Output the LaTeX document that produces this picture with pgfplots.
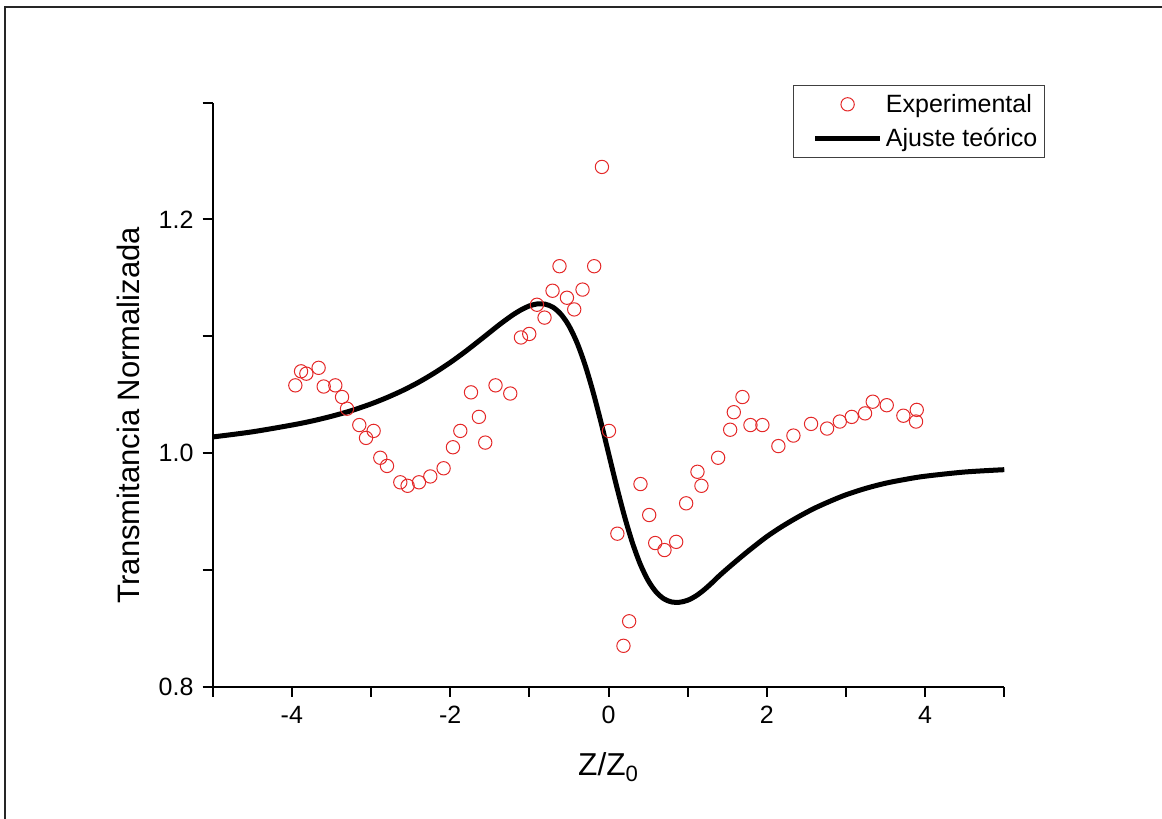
\documentclass[border=0pt]{standalone}
\usepackage{pgfplots}
\pgfplotsset{compat=1.18}
\usepackage{fontspec}
\setmainfont{Liberation Sans}
\definecolor{expred}{RGB}{228,40,40}
\pgfplotsset{
  markleg/.style={legend image code/.code={\path (0pt,0pt); \draw[##1] plot coordinates {(28.5pt,0pt)};}},
  lineleg/.style={legend image code/.code={\path (0pt,0pt); \draw[##1] (9pt,0pt) -- (48pt,0pt);}},
}

\begin{document}
\begin{tikzpicture}
% page area and the partial frame (left and top edges)
\useasboundingbox (0,0) rectangle (697.2pt,491.4pt);
\draw[line width=1.2pt, black!85] (2.7pt,0) -- (2.7pt,487.2pt) -- (697.2pt,487.2pt);

\begin{axis}[
  at={(127.62pt,79.38pt)}, anchor=south west,
  scale only axis, width=474.96pt, height=350.4pt,
  xmin=-5, xmax=5, ymin=0.8, ymax=1.3,
  axis x line*=bottom, axis y line*=left,
  axis line style={line width=1.2pt, -},
  every tick/.style={black, line width=1.2pt},
  tick align=outside,
  major tick length=6pt, minor tick length=6pt,
  xtick={-4,-2,0,2,4}, xticklabels={-4,-2,0,2,4},
  minor xtick={-5,-3,-1,1,3,5},
  ytick={0.8,1.0,1.2}, yticklabels={0.8,1.0,1.2},
  minor ytick={0.9,1.1,1.3},
  tick label style={font=\fontsize{15}{18}\selectfont},
  xticklabel style={yshift=-2pt},
  yticklabel style={xshift=-2pt},
  xlabel={Z/Z\textsubscript{0}},
  ylabel={Transmitancia Normalizada},
  every axis x label/.style={at={(axis description cs:0.5,-0.152)}, anchor=base, font=\fontsize{19}{22}\selectfont},
  every axis y label/.style={at={(axis description cs:-0.0931,0.465)}, anchor=base, rotate=90, font=\fontsize{18.6}{22}\selectfont},
  legend style={at={(0.733,1.030)}, anchor=north west, draw=black!75, line width=0.6pt,
    font=\fontsize{15}{18}\selectfont, inner xsep=2.5pt, inner ysep=3pt,
    row sep=4pt},
  legend cell align=left,
  clip=false,
]
\addplot[only marks, mark=o, mark size=4pt, expred, mark options={line width=0.6pt}, markleg]
  coordinates {
  (-3.956,1.058) (-3.884,1.070) (-3.817,1.068) (-3.662,1.073) (-3.598,1.057)
  (-3.451,1.058) (-3.366,1.048) (-3.303,1.038) (-3.148,1.024) (-3.063,1.013)
  (-2.967,1.019) (-2.883,0.996) (-2.798,0.989) (-2.630,0.975) (-2.538,0.972)
  (-2.394,0.975) (-2.251,0.980) (-2.083,0.987) (-1.965,1.005) (-1.872,1.019)
  (-1.737,1.052) (-1.637,1.031) (-1.557,1.009) (-1.427,1.058) (-1.241,1.051)
  (-1.106,1.099) (-1.001,1.102) (-0.904,1.127) (-0.808,1.116) (-0.707,1.139)
  (-0.619,1.160) (-0.525,1.133) (-0.433,1.123) (-0.328,1.140) (-0.181,1.160)
  (-0.083,1.245) (0.006,1.019) (0.112,0.931) (0.189,0.835) (0.261,0.856)
  (0.404,0.9735) (0.514,0.947) (0.590,0.923) (0.707,0.917) (0.855,0.924)
  (0.981,0.957) (1.124,0.984) (1.174,0.972) (1.385,0.996) (1.537,1.020)
  (1.583,1.035) (1.692,1.048) (1.793,1.024) (1.944,1.024) (2.146,1.006)
  (2.336,1.015) (2.559,1.025) (2.761,1.021) (2.922,1.027) (3.073,1.031)
  (3.241,1.034) (3.338,1.044) (3.515,1.041) (3.725,1.032) (3.894,1.037)
  (3.885,1.027)
  };
\addlegendentry{Experimental}
\addplot[black, line width=3pt, smooth, lineleg]
  coordinates {
  (-5.0,1.0138) (-4.5,1.0182) (-4.0,1.0240) (-3.75,1.0274) (-3.5,1.0315)
  (-3.25,1.0363) (-3.0,1.0421) (-2.8,1.0475) (-2.6,1.0536) (-2.4,1.0606)
  (-2.2,1.0686) (-2.0,1.0775) (-1.8,1.0874) (-1.6,1.0980) (-1.5,1.1034)
  (-1.4,1.1088) (-1.3,1.1139) (-1.2,1.1187) (-1.1,1.1228) (-1.0,1.1260)
  (-0.9,1.1277) (-0.8,1.1275) (-0.7,1.1248) (-0.6,1.1188) (-0.5,1.1090)
  (-0.4,1.0949) (-0.3,1.0763) (-0.2,1.0536) (-0.1,1.0277) (0.0,1.0000)
  (0.1,0.9723) (0.2,0.9464) (0.3,0.9237) (0.4,0.9051) (0.5,0.8910)
  (0.6,0.8812) (0.7,0.8752) (0.8,0.8725) (0.9,0.8723) (1.0,0.8740)
  (1.1,0.8775) (1.2,0.8825) (1.3,0.8885) (1.4,0.8950) (1.5,0.9010)
  (1.6,0.9068) (1.7,0.9125) (1.8,0.9180) (2.0,0.9285) (2.2,0.9375)
  (2.4,0.9455) (2.6,0.9527) (2.8,0.9588) (3.0,0.9643) (3.25,0.9698)
  (3.5,0.9742) (3.75,0.9775) (4.0,0.9802) (4.5,0.9838) (5.0,0.9858)
  };
\addlegendentry{Ajuste teórico}
\end{axis}
\end{tikzpicture}
\end{document}
